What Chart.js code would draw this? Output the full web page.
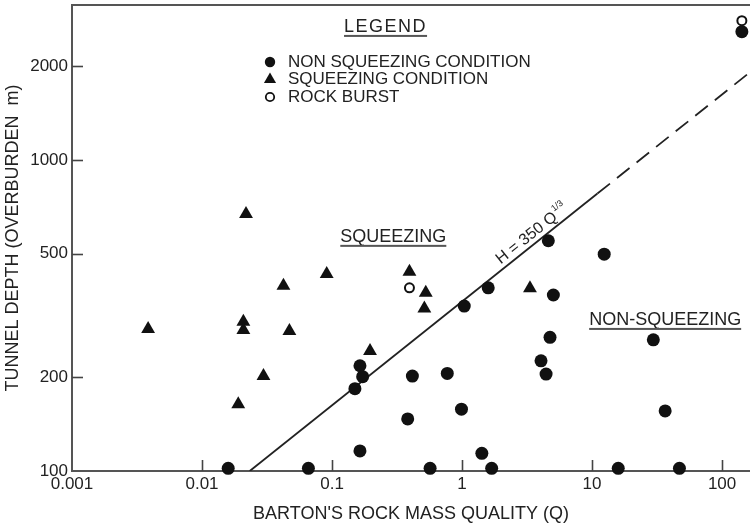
<!DOCTYPE html>
<html>
<head>
<meta charset="utf-8">
<script src="https://cdn.jsdelivr.net/npm/chart.js@4.4.0/dist/chart.umd.min.js"></script>
<style>
  html, body { margin: 0; padding: 0; background: #fff; }
  #wrap { width: 750px; height: 528px; position: relative; }
</style>
</head>
<body>
<div id="wrap"><canvas id="c" width="750" height="528"></canvas></div>
<script>
// ---- data ----
const xTickValues = [0.001, 0.01, 0.1, 1, 10, 100];
const xTickLabels = ['0.001', '0.01', '0.1', '1', '10', '100'];
const yTickValues = [100, 200, 500, 1000, 2000];
const yTickLabels = ['100', '200', '500', '1000', '2000'];

const nonSqueezingQ = [0.0159, 0.0658, 0.164, 0.150, 0.164, 0.172, 0.382, 0.415, 0.568, 0.77, 0.99, 1.04, 1.42, 1.59, 1.69, 4.05, 4.43, 4.61, 4.75, 5.04, 12.4, 15.9, 29.6, 36.5, 47, 142];
const nonSqueezingH = [102, 102, 116, 184, 218, 201, 147, 202, 102, 206, 158, 339, 114, 388, 102, 226, 205, 550, 269, 368, 498, 102, 264, 156, 102, 2585];

const squeezingQ = [0.00385, 0.0218, 0.0208, 0.0208, 0.019, 0.0297, 0.0423, 0.047, 0.091, 0.196, 0.394, 0.526, 0.513, 3.33];
const squeezingH = [286, 670, 302, 284, 164, 202, 394, 282, 430, 243, 437, 374, 333, 387];

const rockBurstQ = [0.394, 142];
const rockBurstH = [388, 2805];

// boundary H = 350 Q^(1/3): solid part, then dashed extension (end values)
const boundarySolidQ = [0.0233, 11];
const boundarySolidH = [100, 780];
const boundaryDashQ = [11, 164];
const boundaryDashH = [780, 1915];

const seriesNames = ['NON SQUEEZING CONDITION', 'SQUEEZING CONDITION', 'ROCK BURST'];
const xTitle = "BARTON'S ROCK MASS QUALITY (Q)";
const yTitle = 'TUNNEL DEPTH (OVERBURDEN  m)';

// ---- chart ----
const FONT = '"Liberation Sans", Arial, Helvetica, sans-serif';
const INK = '#111';
const AXIS = '#555';

function pts(xs, ys) { return xs.map((x, i) => ({ x: x, y: ys[i] })); }

const annotations = [
  { text: 'SQUEEZING', q: 0.296, h: 566, size: 18, underline: true },
  { text: 'NON-SQUEEZING', q: 36.5, h: 306, size: 18, underline: true },
  { text: 'LEGEND', q: 0.258, h: 2678, size: 18, underline: true, spacing: 1.5 }
];

function zeroPad(s) { s.paddingTop = 0; s.paddingBottom = 0; s.paddingLeft = 0; s.paddingRight = 0; }

const decorPlugin = {
  id: 'decor',
  afterDraw(chart) {
    const ctx = chart.ctx;
    const xs = chart.scales.x, ys = chart.scales.y;
    const a = chart.chartArea;
    ctx.save();
    // top frame line
    ctx.strokeStyle = AXIS;
    ctx.lineWidth = 2;
    ctx.beginPath();
    ctx.moveTo(a.left - 1, a.top);
    ctx.lineTo(a.right, a.top);
    ctx.stroke();
    // inward tick marks
    ctx.lineWidth = 1.6;
    ctx.strokeStyle = '#444';
    xTickValues.forEach(v => {
      const px = Math.round(xs.getPixelForValue(v)) + 0.5;
      if (px <= a.left + 2) return;
      ctx.beginPath();
      ctx.moveTo(px, a.bottom);
      ctx.lineTo(px, a.bottom - 11);
      ctx.stroke();
    });
    yTickValues.forEach(v => {
      const py = Math.round(ys.getPixelForValue(v)) + 0.5;
      if (py >= a.bottom - 2) return;
      ctx.beginPath();
      ctx.moveTo(a.left, py);
      ctx.lineTo(a.left + 11, py);
      ctx.stroke();
    });

    // annotations
    ctx.fillStyle = '#222';
    annotations.forEach(an => {
      ctx.font = an.size + 'px ' + FONT;
      ctx.letterSpacing = (an.spacing || 0) + 'px';
      ctx.textAlign = 'center';
      ctx.textBaseline = 'middle';
      const cx = xs.getPixelForValue(an.q), cy = ys.getPixelForValue(an.h);
      ctx.fillText(an.text, cx, cy);
      if (an.underline) {
        const w = ctx.measureText(an.text).width;
        ctx.fillStyle = '#555';
        ctx.fillRect(cx - w / 2, cy + 8, w, 2);
        ctx.fillStyle = '#222';
      }
    });
    ctx.letterSpacing = '0px';

    // legend rows
    const lx = 270;
    const rows = [62, 79.5, 97];
    const ds = chart.data.datasets;
    ctx.textAlign = 'left';
    ctx.textBaseline = 'middle';
    ctx.font = '17px ' + FONT;
    rows.forEach((ry, i) => {
      const d = ds[i];
      ctx.beginPath();
      if (d.pointStyle === 'triangle') {
        const r = 7;
        ctx.moveTo(lx, ry - r);
        ctx.lineTo(lx + r * 0.866, ry + r * 0.5);
        ctx.lineTo(lx - r * 0.866, ry + r * 0.5);
        ctx.closePath();
        ctx.fillStyle = d.backgroundColor;
        ctx.fill();
      } else if (d.backgroundColor === '#ffffff') {
        ctx.arc(lx, ry, 4.2, 0, Math.PI * 2);
        ctx.lineWidth = 1.8;
        ctx.strokeStyle = d.borderColor;
        ctx.stroke();
      } else {
        ctx.arc(lx, ry, 5.2, 0, Math.PI * 2);
        ctx.fillStyle = d.backgroundColor;
        ctx.fill();
      }
      ctx.fillStyle = '#222';
      ctx.fillText(d.label, lx + 18, ry);
    });

    // equation label along the boundary line
    const q0 = 2.1;
    const x0 = xs.getPixelForValue(q0);
    const y0 = ys.getPixelForValue(350 * Math.cbrt(q0));
    const x1 = xs.getPixelForValue(boundarySolidQ[1]);
    const y1 = ys.getPixelForValue(boundarySolidH[1]);
    const x2 = xs.getPixelForValue(boundarySolidQ[0]);
    const y2 = ys.getPixelForValue(boundarySolidH[0]);
    const ang = Math.atan2(y1 - y2, x1 - x2);
    ctx.translate(x0, y0);
    ctx.rotate(ang);
    ctx.textAlign = 'left';
    ctx.textBaseline = 'alphabetic';
    ctx.font = '16px ' + FONT;
    ctx.fillStyle = '#222';
    const main = 'H = 350 Q';
    ctx.fillText(main, 0, -5);
    const mw = ctx.measureText(main).width;
    ctx.font = '9px ' + FONT;
    ctx.fillText('1/3', mw + 1, -13);
    ctx.restore();
  }
};

new Chart(document.getElementById('c'), {
  type: 'scatter',
  data: {
    datasets: [
      { label: seriesNames[0], data: pts(nonSqueezingQ, nonSqueezingH), pointStyle: 'circle', pointRadius: 6.5,
        backgroundColor: INK, borderColor: INK, borderWidth: 0, clip: false, order: 1 },
      { label: seriesNames[1], data: pts(squeezingQ, squeezingH), pointStyle: 'triangle', pointRadius: 8,
        backgroundColor: INK, borderColor: INK, borderWidth: 0, clip: false, order: 1 },
      { label: seriesNames[2], data: pts(rockBurstQ, rockBurstH), pointStyle: 'circle', pointRadius: 4.5,
        backgroundColor: '#ffffff', borderColor: INK, borderWidth: 2, clip: false, order: 0 },
      { label: 'H = 350 Q^1/3', data: pts(boundarySolidQ, boundarySolidH), showLine: true, pointRadius: 0,
        borderColor: '#222', borderWidth: 1.8, fill: false, order: 2 },
      { label: 'H = 350 Q^1/3 (extrapolated)', data: pts(boundaryDashQ, boundaryDashH), showLine: true, pointRadius: 0,
        borderColor: '#222', borderWidth: 1.8, borderDash: [16, 9], fill: false, order: 2 }
    ]
  },
  options: {
    responsive: false,
    animation: false,
    events: [],
    layout: { autoPadding: false, padding: { top: 5, right: 0, left: 0, bottom: 0 } },
    plugins: { legend: { display: false }, tooltip: { enabled: false } },
    scales: {
      x: {
        type: 'logarithmic',
        min: 0.001, max: 164,
        afterFit(s) { s.height = 57; zeroPad(s); },
        afterBuildTicks(s) { s.ticks = xTickValues.map(v => ({ value: v })); },
        grid: { display: false, drawTicks: false },
        border: { display: true, color: AXIS, width: 2 },
        ticks: {
          autoSkip: false, maxRotation: 0, padding: 3, color: '#222',
          font: { family: FONT, size: 17 },
          callback: (v, i) => xTickLabels[i]
        },
        title: { display: true, text: xTitle, color: '#222', font: { family: FONT, size: 18 },
          padding: { top: 0, bottom: 3 } }
      },
      y: {
        type: 'logarithmic',
        min: 100, max: 3150,
        afterFit(s) { s.width = 72; zeroPad(s); },
        afterBuildTicks(s) { s.ticks = yTickValues.map(v => ({ value: v })); },
        grid: { display: false, drawTicks: false },
        border: { display: true, color: AXIS, width: 2 },
        ticks: {
          autoSkip: false, padding: 4, color: '#222',
          font: { family: FONT, size: 17 },
          callback: (v, i) => yTickLabels[i]
        },
        title: { display: true, text: yTitle, color: '#222', font: { family: FONT, size: 18 },
          padding: { top: 2, bottom: 0 } }
      }
    }
  },
  plugins: [decorPlugin]
});
</script>
</body>
</html>
